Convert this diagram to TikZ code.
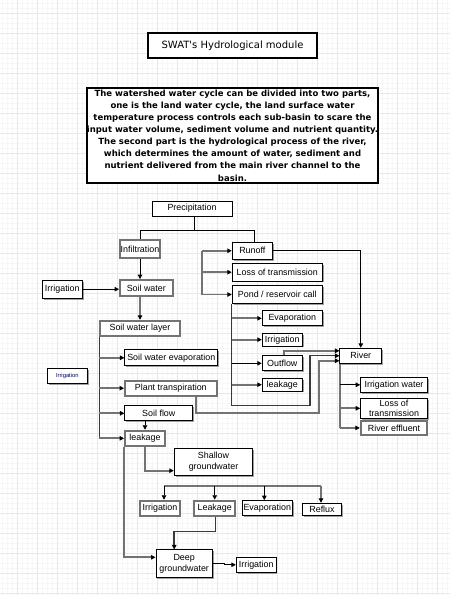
\documentclass[tikz,border=0pt]{standalone}
\usepackage{fontspec}
\setmainfont{Liberation Sans}
\newfontfamily\headfont{DejaVu Sans}
\usetikzlibrary{arrows.meta,shadows}

\begin{document}
\begin{tikzpicture}[x=1pt,y=-1pt,
  every node/.style={inner sep=0pt, align=center,
    font=\fontsize{8.9}{10.8}\selectfont},
  sz/.style 2 args={minimum width=#1pt, minimum height=#2pt},
  bbox/.style={draw=black, line width=1pt, fill=white,
    drop shadow={shadow xshift=1.3pt, shadow yshift=-1.3pt,
      fill=gray!75, opacity=1}},
  gbox/.style={draw=gray!90!black, line width=1.8pt, fill=white},
  bline/.style={draw=black, line width=0.9pt},
  gline/.style={draw=gray!90!black, line width=1.8pt},
  dline/.style={draw=gray!45!black, line width=1.1pt},
  tip/.style={-{Triangle[length=4.5pt,width=4.5pt,color=black]}},
]
% page and grid paper
\fill[white] (0,0) rectangle (450,595);
\useasboundingbox (0,0) rectangle (450,595);
\foreach \i in {0,...,89} {
  \draw[gray!6, line width=0.5pt] (2.3+5*\i,0) -- (2.3+5*\i,595);
}
\foreach \i in {0,...,119} {
  \draw[gray!6, line width=0.5pt] (0,3.3+5*\i) -- (450,3.3+5*\i);
}
\foreach \i in {0,...,21} {
  \draw[gray!18, line width=0.7pt] (17.3+20*\i,0) -- (17.3+20*\i,595);
}
\foreach \i in {0,...,29} {
  \draw[gray!18, line width=0.7pt] (0,13.3+20*\i) -- (450,13.3+20*\i);
}

% heading and description
\node[bbox, line width=1.4pt, sz={169}{25},
  font=\headfont\fontsize{10}{12}\selectfont] (title) at (232.5,45.5)
  {SWAT's Hydrological module};
\node[bbox, line width=1.4pt, sz={291}{95},
  font=\headfont\bfseries\fontsize{8.5}{12.1}\selectfont] (intro) at (232.5,135.5)
  {The watershed water cycle can be divided into two parts,\\
   one is the land water cycle, the land surface water\\
   temperature process controls each sub-basin to scare the\\
   input water volume, sediment volume and nutrient quantity.\\
   The second part is the hydrological process of the river,\\
   which determines the amount of water, sediment and\\
   nutrient delivered from the main river channel to the\\
   basin.};

% land phase
\node[bbox, sz={80}{15}] (precip) at (192,208.5) {Precipitation};
\node[gbox, sz={40}{18}] (infil) at (140,249) {Infiltration};
\node[gbox, sz={52.7}{16}] (soilw) at (146.3,288) {Soil water};
\node[bbox, sz={40}{18}] (irrL) at (62.3,289.2) {Irrigation};
\node[gbox, sz={80}{15}] (swlayer) at (140,328.2) {Soil water layer};
\node[bbox, line width=0.8pt, sz={40}{15},
  font=\fontsize{5.8}{7}\selectfont, text=blue!35!black] (irrT) at (67.3,375.8) {Irrigation};
\node[bbox, sz={92.7}{15.7}] (swevap) at (171.3,357.8) {Soil water evaporation};
\node[gbox, sz={91.7}{15}] (plant) at (170.8,388.2) {Plant transpiration};
\node[bbox, sz={67.7}{15.3}] (soilflow) at (158.8,413.3) {Soil flow};
\node[gbox, sz={40}{15.3}] (leakS) at (145,438.3) {leakage};

% surface runoff and ponds
\node[bbox, sz={40}{17}] (runoff) at (252.3,250.8) {Runoff};
\node[bbox, sz={90}{17.7}] (lossT) at (277.3,272.2) {Loss of transmission};
\node[bbox, sz={90}{17.6}] (pond) at (277.3,294.5) {Pond / reservoir call};
\node[bbox, sz={60}{15.3}] (evapP) at (292.3,318.3) {Evaporation};
\node[bbox, sz={40}{12.7}] (irrP) at (282.3,339.7) {Irrigation};
\node[bbox, sz={40}{15.3}] (outflow) at (282.3,363.3) {Outflow};
\node[bbox, sz={40}{12.7}] (leakP) at (282.3,384.7) {leakage};

% river phase
\node[bbox, sz={41.7}{15}] (river) at (360.8,355.8) {River};
\node[bbox, sz={66.6}{15}] (irrW) at (394,384.8) {Irrigation water};
\node[bbox, sz={66.6}{20}] (lossR) at (394,408.3) {Loss of\\transmission};
\node[gbox, sz={66.6}{14.3}] (effl) at (394,427.9) {River effluent};

% groundwater
\node[bbox, sz={78.4}{27.4}] (shallow) at (213.5,462) {Shallow\\groundwater};
\node[gbox, sz={40}{15.3}] (irrB) at (160,508.3) {Irrigation};
\node[gbox, sz={40.7}{15.3}] (leakB) at (214.7,508.3) {Leakage};
\node[bbox, sz={50}{15.3}] (evapB) at (267.3,508.3) {Evaporation};
\node[bbox, sz={39.4}{12.4}] (reflux) at (322,509.5) {Reflux};
\node[bbox, sz={56.3}{27.7}] (deep) at (184.2,563.8) {Deep\\groundwater};
\node[bbox, sz={39.7}{15}] (irrD) at (256.2,564.8) {Irrigation};

% precipitation split
\coordinate (pj) at (194.3,230.7);
\draw[bline] ([xshift=2.3pt]precip.south) -- (pj);
\draw[bline] (infil.north) |- (pj) -| ([xshift=1.7pt]runoff.north);

% soil column
\draw[bline, tip] (infil.south) -- (infil.south |- soilw.north);
\draw[bline, tip] (irrL.east) -- (irrL.east -| soilw.west);
\draw[gline, tip] (swlayer.north |- soilw.south) -- (swlayer.north);
\draw[dline] (swlayer.south west) -- (swlayer.south west |- leakS.west);
\draw[gline, tip] (swlayer.south west |- swevap.west) -- (swevap.west);
\draw[gline, tip] (swlayer.south west |- plant.west) -- (plant.west);
\draw[gline, tip] (swlayer.south west |- soilflow.west) -- (soilflow.west);
\draw[gline, tip] (swlayer.south west |- leakS.west) -- (leakS.west);
\draw[bline, tip] (leakS.north |- soilflow.south) -- (leakS.north);

% runoff branches
\coordinate (rb) at (202.3,250.8);
\draw[gline, tip] (rb) -- (runoff.west);
\draw[gline, tip] (rb) |- (lossT.west);
\draw[gline, tip] (rb) |- (pond.west);
\draw[bline, tip] (runoff.east) -| (river.north);

% pond branches and return to the river
\coordinate (pb) at (310,405.7);
\draw[dline, tip] (pond.south west) |- (pb) |- (river.west);
\draw[gline, tip] (pond.south west |- evapP.west) -- (evapP.west);
\draw[gline, tip] (pond.south west |- irrP.west) -- (irrP.west);
\draw[bline, tip] (pond.south west |- outflow.west) -- (outflow.west);
\draw[gline, tip] (pond.south west |- leakP.west) -- (leakP.west);
\draw[gline, tip] ([xshift=2pt]outflow.north) |- ([yshift=5pt]river.west);
\coordinate (tb) at (319.3,412.7);
\draw[gline, tip] ([xshift=25.5pt]plant.south) |- (tb) |- ([yshift=-5pt]river.west);

% river outputs
\draw[gline] ([xshift=0.9pt]river.south west) -- ([xshift=0.9pt]river.south west |- effl.west);
\draw[bline, tip] ([xshift=0.9pt]river.south west |- irrW.west) -- (irrW.west);
\draw[gline, tip] ([xshift=0.9pt]river.south west |- lossR.west) -- (lossR.west);
\draw[gline, tip] ([xshift=0.9pt]river.south west |- effl.west) -- (effl.west);

% groundwater flows
\draw[gline, tip] (leakS.south) |- ([yshift=-8.7pt]shallow.west);
\draw[gline, tip] (leakS.south west) |- ([yshift=6.5pt]deep.west);
\coordinate (busL) at (164,485.7);
\coordinate (busR) at (321,485.7);
\draw[gline] (busL) -- (busR);
\draw[bline, tip] (busL) -- (busL |- irrB.north);
\draw[bline, tip] (leakB.north |- busL) -- (leakB.north);
\draw[bline, tip] ([xshift=-3pt]evapB.north |- busL) -- ([xshift=-3pt]evapB.north);
\draw[gline, tip] (busR) -- (busR |- reflux.north);
\draw[dline, line width=1.5pt, tip] ([xshift=1pt]leakB.south) -- ++(0,14.7) -| ([xshift=-10pt]deep.north);
\draw[bline, tip] (deep.east) -- ++(12,0) |- (irrD.west);
\end{tikzpicture}
\end{document}
